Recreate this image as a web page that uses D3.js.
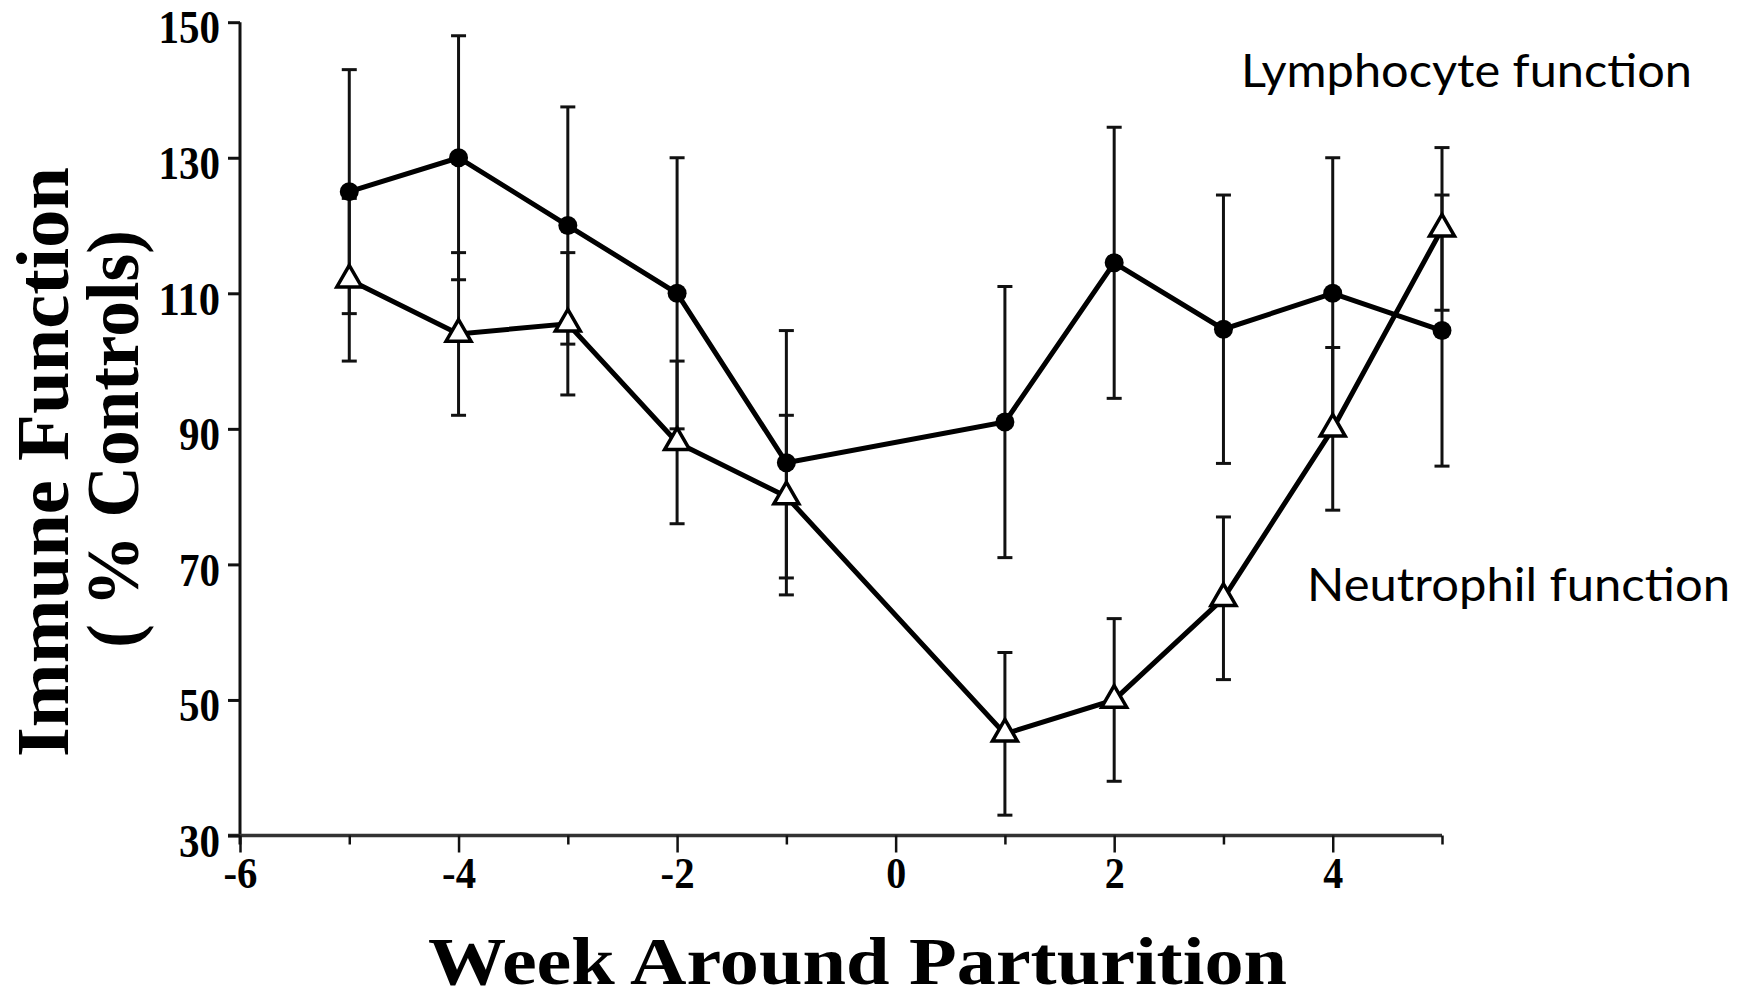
<!DOCTYPE html>
<html>
<head>
<meta charset="utf-8">
<script src="https://cdn.jsdelivr.net/npm/d3@7"></script>
<style>
  body { margin: 0; background: #fff; }
  svg { display: block; }
</style>
</head>
<body>
<svg width="1742" height="999"></svg>
<script>
let svg = d3.select("svg"),
    width = +svg.attr("width"),
    height = +svg.attr("height");

// weeks around parturition (no week 0)
let weeks = [-5, -4, -3, -2, -1, 1, 2, 3, 4, 5];

// lymphocyte function, mean and error (% controls)
let lymphMean = [125, 130, 120, 110, 85, 91, 114.5, 104.7, 110, 104.5];
let lymphErr  = [18, 18, 17.5, 20, 19.5, 20, 20, 19.8, 20, 20];

// neutrophil function, mean and error (% controls)
let neutMean = [112, 104, 105.5, 88, 80, 45, 50, 65, 90, 119.5];
let neutErr  = [12, 12, 10.5, 12, 12, 12, 12, 12, 12, 12];

let xTicks = [-6, -5, -4, -3, -2, -1, 0, 1, 2, 3, 4, 5];
let xLabels = [-6, -4, -2, 0, 2, 4];
let yTicks = [30, 50, 70, 90, 110, 130, 150];

let x = d3.scaleLinear().domain([-6, 5]).range([240, 1442]);
let y = d3.scaleLinear().domain([30, 150]).range([835.5, 22.2]);

let serif = "'Liberation Serif', 'Times New Roman', serif";

/**
* Zips the arrays into one row per week
*/
function makeRows(mean, err){
    return weeks.map((w, i) => ({week: w, mean: mean[i], err: err[i]}));
}

let lymph = makeRows(lymphMean, lymphErr);
let neut = makeRows(neutMean, neutErr);

//Axes lines, drawn by hand so they can overshoot a little like the original
svg.append("line")
    .attr("x1", x.range()[0]).attr("x2", x.range()[0])
    .attr("y1", y.range()[1]).attr("y2", y.range()[0] + 9)
    .attr("stroke", "#111").attr("stroke-width", 3);

svg.append("line")
    .attr("x1", x.range()[0] - 12).attr("x2", x.range()[1])
    .attr("y1", y.range()[0]).attr("y2", y.range()[0])
    .attr("stroke", "#333").attr("stroke-width", 3.5);

//Y axis ticks + labels
let yAxis = svg.append("g")
    .attr("transform", `translate(${x.range()[0]},0)`)
    .call(d3.axisLeft(y).tickValues(yTicks).tickSize(12).tickSizeOuter(0).tickPadding(8));
yAxis.select(".domain").remove();
yAxis.selectAll(".tick line").attr("stroke", "#111").attr("stroke-width", 3);
yAxis.selectAll(".tick text")
    .attr("fill", "#000")
    .attr("dy", "0.45em")
    .style("font-family", serif)
    .style("font-weight", "bold")
    .style("font-size", "46px")
    .attr("textLength", d => String(d).length * 20.5)
    .attr("lengthAdjust", "spacingAndGlyphs");

//X axis ticks: long under labelled weeks, short otherwise
let xAxis = svg.append("g")
    .attr("transform", `translate(0,${y.range()[0]})`)
    .call(d3.axisBottom(x).tickValues(xTicks).tickSize(0).tickSizeOuter(0)
        .tickFormat(d => xLabels.includes(d) ? String(d).replace("\u2212", "-") : ""));
xAxis.select(".domain").remove();
xAxis.selectAll(".tick line")
    .attr("y2", d => xLabels.includes(d) ? 17 : 9)
    .attr("stroke", "#111").attr("stroke-width", 2.5);
xAxis.selectAll(".tick text")
    .attr("fill", "#000")
    .attr("y", 52)
    .attr("dy", 0)
    .style("font-family", serif)
    .style("font-weight", "bold")
    .style("font-size", "45px")
    .attr("textLength", d => d < 0 ? 34 : 20)
    .attr("lengthAdjust", "spacingAndGlyphs");

//Axis titles
svg.append("text")
    .attr("x", 428).attr("y", 984)
    .attr("textLength", 859).attr("lengthAdjust", "spacingAndGlyphs")
    .style("font-family", serif).style("font-weight", "bold").style("font-size", "68px")
    .text("Week  Around  Parturition");

svg.append("text")
    .attr("transform", "translate(68,757) rotate(-90)")
    .attr("textLength", 590).attr("lengthAdjust", "spacingAndGlyphs")
    .style("font-family", serif).style("font-weight", "bold").style("font-size", "75px")
    .text("Immune  Function");

svg.append("text")
    .attr("transform", "translate(138,648) rotate(-90)")
    .attr("textLength", 418).attr("lengthAdjust", "spacingAndGlyphs")
    .style("font-family", serif).style("font-weight", "bold").style("font-size", "75px")
    .text("( % Controls)");

/**
* Error bars with caps for one series
*/
function drawErrors(rows){
    let g = svg.append("g").attr("class", "errors")
        .attr("stroke", "#111").attr("stroke-width", 3);
    g.selectAll("line.bar").data(rows).enter().append("line")
        .attr("class", "bar")
        .attr("x1", d => x(d.week)).attr("x2", d => x(d.week))
        .attr("y1", d => y(d.mean - d.err)).attr("y2", d => y(d.mean + d.err));
    [-1, 1].forEach(s => {
        g.selectAll("line.cap" + (s + 1)).data(rows).enter().append("line")
            .attr("class", "cap" + (s + 1))
            .attr("x1", d => x(d.week) - 7.5).attr("x2", d => x(d.week) + 7.5)
            .attr("y1", d => y(d.mean + s * d.err)).attr("y2", d => y(d.mean + s * d.err));
    });
}

drawErrors(lymph);
drawErrors(neut);

let line = d3.line().x(d => x(d.week)).y(d => y(d.mean));

svg.append("path").datum(lymph)
    .attr("d", line).attr("fill", "none")
    .attr("stroke", "#000").attr("stroke-width", 5);

svg.append("path").datum(neut)
    .attr("d", line).attr("fill", "none")
    .attr("stroke", "#000").attr("stroke-width", 5);

//Markers
svg.append("g").selectAll("circle").data(lymph).enter().append("circle")
    .attr("cx", d => x(d.week)).attr("cy", d => y(d.mean))
    .attr("r", 9.5).attr("fill", "#000");

svg.append("g").selectAll("path").data(neut).enter().append("path")
    .attr("d", d3.symbol().type(d3.symbolTriangle).size(270))
    .attr("transform", d => `translate(${x(d.week)},${y(d.mean)})`)
    .attr("fill", "#fff").attr("stroke", "#000").attr("stroke-width", 3.5);

//Series annotations
let sans = "Lato, 'Open Sans', sans-serif";
svg.append("text")
    .attr("x", 1241).attr("y", 87)
    .attr("textLength", 451).attr("lengthAdjust", "spacingAndGlyphs")
    .style("font-family", sans).style("font-size", "47px")
    .text("Lymphocyte function");

svg.append("text")
    .attr("x", 1307).attr("y", 601)
    .attr("textLength", 423).attr("lengthAdjust", "spacingAndGlyphs")
    .style("font-family", sans).style("font-size", "47px")
    .text("Neutrophil function");
</script>
</body>
</html>
